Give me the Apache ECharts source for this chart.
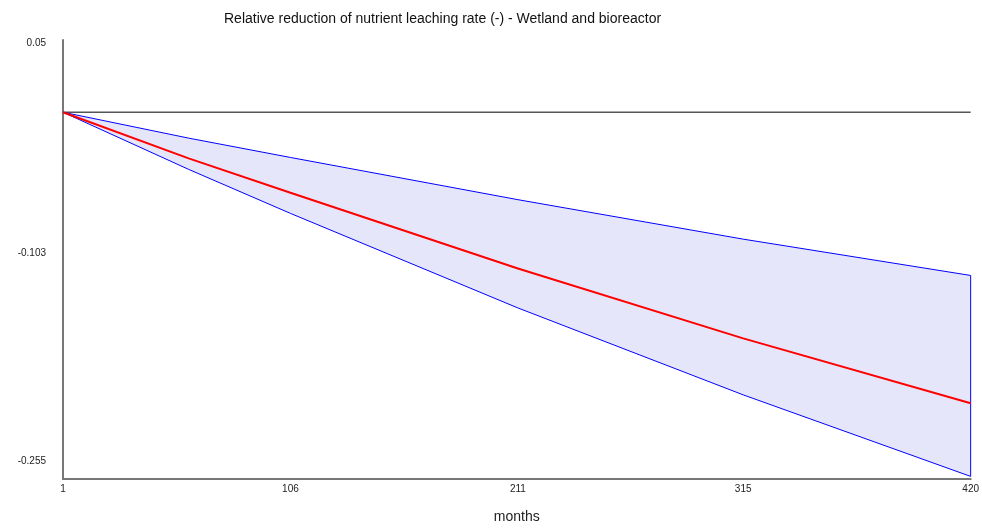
<!DOCTYPE html>
<html>
<head>
<meta charset="utf-8">
<script src="https://cdn.jsdelivr.net/npm/echarts@6/dist/echarts.min.js"></script>
<style>html,body{margin:0;padding:0;background:#fff;overflow:hidden}#c{width:100vw;height:100vh}</style>
</head>
<body>
<div id="c"></div>
<script>
const months = [1, 59, 106, 211, 315, 420];
const meanValues = [0, -0.0337, -0.0588, -0.114, -0.165, -0.2123];
const upperValues = [0, -0.0189, -0.0330, -0.0638, -0.0926, -0.1191];
const lowerValues = [0, -0.0417, -0.0738, -0.1428, -0.2062, -0.2657];
const xTickLabels = [1, 106, 211, 315, 420];
const yTickLabels = [0.05, -0.103, -0.255];

const chart = echarts.init(document.getElementById('c'));
const pairs = (xs, ys) => xs.map((x, i) => [x, ys[i]]);
const lastIdx = months.length - 1;
const FONT = 'Liberation Sans, Arial, sans-serif';

chart.setOption({
  animation: false,
  title: {
    text: 'Relative reduction of nutrient leaching rate (-) - Wetland and bioreactor',
    left: 219, top: 7,
    textStyle: {fontFamily: FONT, fontSize: 14, fontWeight: 'normal', color: '#111'}
  },
  grid: {left: 63, right: 8, top: 40, bottom: 47, containLabel: false},
  xAxis: {
    type: 'value', min: 1, max: 420,
    name: 'months', nameLocation: 'middle', nameGap: 31,
    nameTextStyle: {fontFamily: FONT, fontSize: 14, color: '#222'},
    axisLine: {show: true, onZero: false, lineStyle: {color: '#777', width: 2}},
    axisTick: {show: false},
    splitLine: {show: false},
    axisLabel: {customValues: xTickLabels, fontFamily: FONT, fontSize: 10, color: '#222', margin: 5}
  },
  yAxis: {
    type: 'value', min: -0.2676, max: 0.0527,
    axisLine: {show: true, onZero: false, lineStyle: {color: '#777', width: 2}},
    axisTick: {show: false},
    splitLine: {show: false},
    axisLabel: {customValues: yTickLabels, fontFamily: FONT, fontSize: 10, color: '#222', margin: 17,
      formatter: v => String(v)}
  },
  series: [
    {
      type: 'custom', name: 'band', silent: true, z: 1,
      data: [[months[0], upperValues[0]]],
      renderItem: function (params, api) {
        const pts = [];
        for (let i = 0; i < months.length; i++) pts.push(api.coord([months[i], upperValues[i]]));
        for (let i = months.length - 1; i >= 0; i--) pts.push(api.coord([months[i], lowerValues[i]]));
        return {type: 'polygon', shape: {points: pts}, style: {fill: '#e6e6fa'}};
      }
    },
    {
      type: 'line', name: 'zero', data: [[1, 0], [420, 0]],
      symbol: 'none', lineStyle: {color: '#555', width: 1.5}, z: 2
    },
    {
      type: 'line', name: 'upper', data: pairs(months, upperValues),
      symbol: 'none', lineStyle: {color: '#0000ff', width: 1}, z: 3
    },
    {
      type: 'line', name: 'lower', data: pairs(months, lowerValues),
      symbol: 'none', lineStyle: {color: '#0000ff', width: 1}, z: 3
    },
    {
      type: 'line', name: 'edge', data: [[months[lastIdx], upperValues[lastIdx]], [months[lastIdx], lowerValues[lastIdx]]],
      symbol: 'none', lineStyle: {color: '#0000ff', width: 1}, z: 3
    },
    {
      type: 'line', name: 'mean', data: pairs(months, meanValues),
      symbol: 'none', lineStyle: {color: '#ff0000', width: 2}, z: 4
    }
  ]
});
</script>
</body>
</html>
